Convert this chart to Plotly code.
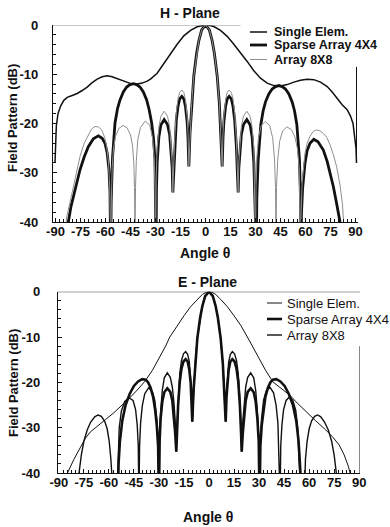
import plotly.graph_objects as go

# ---------------- DATA (angle in degrees, level in dB) ----------------
x_tick_vals = [-90, -75, -60, -45, -30, -15, 0, 15, 30, 45, 60, 75, 90]
x_tick_text = ["-90", "-75", "-60", "-45", "-30", "-15", "0", "15", "30", "45", "60", "75", "90"]
y_tick_vals = [-40, -30, -20, -10, 0]
y_tick_text = ["-40", "-30", "-20", "-10", "0"]
legend_names = ["Single Elem.", "Sparse Array 4X4", "Array 8X8"]

main_lobe = [(-9.3, -22), (-8.3, -15.9), (-7, -10.3), (-5.3, -5.7), (-4, -3.2), (-2.3, -1), (0, 0),
             (2.3, -1), (4, -3.2), (5.3, -5.7), (7, -10.3), (8.3, -15.9), (9.3, -22)]

h_single = [(-90.3, -28), (-90, -24), (-89.5, -20.5), (-88.5, -18), (-87, -16.5), (-85, -15.3), (-83, -14.7),
            (-80, -14.3), (-77, -13.9), (-74, -13.3), (-71, -12.6), (-68, -11.7), (-65, -11), (-62, -10.5),
            (-59, -10.3), (-56, -10.5), (-53, -10.9), (-50, -11.3), (-47, -11.7), (-44, -12), (-41, -12),
            (-38, -11.8), (-35, -11.4), (-33, -11), (-29, -9.8), (-25, -7.8), (-21, -5.8), (-17, -3.9),
            (-13, -2.2), (-9, -1.1), (-5, -0.35), (-2, -0.05), (0, 0), (2, -0.05), (5, -0.3), (9, -1.1),
            (13, -2.3), (17, -3.9), (21, -5.6), (25, -7.4), (29, -9.3), (33, -10.8), (37, -11.8), (41, -12.3),
            (45, -12.4), (49, -12.1), (53, -11.6), (57, -11.2), (61, -11), (65, -11.1), (69, -11.6),
            (73, -12.5), (76, -13.6), (79, -15), (82, -16.2), (85, -17.2), (87, -18.5), (88.5, -20),
            (89.5, -22.5), (90.3, -25), (90.6, -28)]

h_sparse = [(-83.5, -46), (-82.3, -40), (-80.8, -37), (-79.3, -34.8), (-77.3, -32), (-75.3, -29.4),
            (-72.8, -26.8), (-70.3, -24.7), (-67.3, -23.1), (-64.3, -22.5), (-62, -23), (-60.3, -24),
            (-59, -26), (-57.9, -29.4), (-57.3, -34), (-56.9, -46),
            (-56.6, -36), (-55.8, -27), (-54.3, -19.9), (-52.8, -17), (-51.3, -15.2), (-49.3, -13.6),
            (-47.3, -12.6), (-45.3, -12.1), (-43.3, -11.9), (-41.3, -12.1), (-39.3, -12.6), (-37.3, -13.6),
            (-35.3, -15.2), (-33.8, -17.2), (-32.3, -19.9), (-31.2, -23), (-30.3, -27.4), (-29.9, -33), (-29.7, -46),
            (-29.4, -33), (-29, -28), (-28, -22.8), (-26.8, -20.3), (-24.8, -19.2), (-22.8, -20.2), (-21.5, -22.3),
            (-20.5, -25.8), (-20, -29), (-19.6, -34),
            (-19.2, -30.5), (-18.5, -24.5), (-17.5, -19.3), (-16.5, -16.5), (-15.5, -15), (-14.2, -14.5),
            (-13, -15), (-12, -16.6), (-11, -19.8), (-10.5, -23), (-10, -28.7)] + main_lobe + [
            (10, -28.7), (10.5, -23), (11, -19.8), (12, -16.6), (13, -15), (14.2, -14.5), (15.5, -15),
            (16.5, -16.5), (17.5, -19.3), (18.5, -24.5), (19.2, -30.5), (19.6, -34),
            (20, -29), (20.5, -25.8), (21.5, -22.3), (22.8, -20.2), (24.8, -19.2), (26.8, -20.3), (28, -22.8),
            (29, -28), (29.5, -33), (29.9, -46),
            (30.5, -46), (30.8, -35), (31.6, -27.5), (33.2, -20.2), (34.6, -17.4), (36, -15.6), (38, -14),
            (40, -13), (42, -12.5), (44, -12.3), (46, -12.5), (48, -13), (50, -14), (52, -15.6), (53.4, -17.4),
            (54.8, -20.2), (56.4, -27.5), (57, -35), (57.3, -46),
            (57.6, -38), (58.3, -33), (59.7, -28), (61, -25.5), (62.7, -24), (65, -23.2), (67.5, -23.7),
            (70.7, -25.4), (73, -27.7), (75, -30.3), (76.7, -32.8), (78.7, -36.3), (80.7, -40), (81.5, -46)]

h_array8 = [(-85, -46), (-84, -40.5), (-83.3, -39), (-81.3, -36), (-79.3, -32.8), (-77.3, -29.5), (-75.3, -26.7),
            (-72.8, -24), (-70.3, -22.3), (-68.3, -21.1), (-66.3, -20.6), (-64.3, -20.7), (-62.3, -21.3),
            (-60.5, -22.8), (-59.3, -24.7), (-58.2, -28), (-57.5, -32.8), (-57.1, -38), (-56.8, -46),
            (-56.5, -36), (-56, -29), (-55.2, -25), (-54, -22.6), (-52, -21), (-49.5, -20.4), (-47, -20.9),
            (-45, -22.3), (-43.8, -24.5), (-43, -28), (-42.6, -33), (-42.3, -46),
            (-42, -33), (-41.5, -27.5), (-40.6, -23.2), (-39, -20.8), (-36.2, -19.5), (-33.5, -20.3),
            (-31.8, -22.8), (-30.8, -27), (-30.3, -33), (-30, -46),
            (-29.6, -31), (-29, -25), (-28, -20.8), (-26.8, -18.6), (-24.8, -17.5), (-22.8, -18.5),
            (-21.5, -20.7), (-20.5, -24.5), (-20, -28), (-19.6, -34),
            (-19.2, -30), (-18.5, -23), (-17.5, -17.8), (-16.5, -15), (-15.5, -13.7), (-14.2, -13.2),
            (-13, -13.7), (-12, -15.3), (-11, -18.5), (-10.5, -22), (-10, -28.7)] + main_lobe + [
            (10, -28.7), (10.5, -22), (11, -18.5), (12, -15.3), (13, -13.7), (14.2, -13.2), (15.5, -13.7),
            (16.5, -15), (17.5, -17.8), (18.5, -23), (19.2, -30), (19.6, -34),
            (20, -28), (20.5, -24.5), (21.5, -20.7), (22.8, -18.5), (24.8, -17.5), (26.8, -18.6), (28, -20.8),
            (29, -25), (29.6, -31), (30, -46),
            (30.3, -33), (30.8, -27), (31.8, -22.8), (33.5, -20.4), (35.8, -19.6), (38.5, -20.4), (40.3, -22.9),
            (41.4, -27.2), (42, -33), (42.3, -46),
            (42.6, -33), (43.3, -27.5), (44.5, -23.6), (46.3, -21.5), (48.8, -20.7), (51.5, -21.2),
            (53.7, -22.8), (55.2, -25.2), (56.2, -29), (56.8, -35), (57.1, -46),
            (57.4, -38), (58, -32), (59.7, -26), (61, -24), (62.7, -22.6), (64.7, -21.6), (66.7, -21.3),
            (68.7, -21.5), (70.7, -22), (72.7, -22.8), (74.7, -24.3), (76.7, -26.3), (78.7, -28.8),
            (80.7, -32.5), (82.2, -36.5), (83.1, -40), (84, -46)]

e_single = [(-86, -42), (-84.8, -40), (-81, -37), (-77, -34.2), (-74, -32.3), (-71, -30.9), (-66, -29.3),
            (-62, -28.2), (-57, -26.7), (-53, -25.4), (-48, -23.6), (-43, -21.7), (-38.5, -19.8), (-34, -17.4),
            (-29, -14.2), (-26, -12), (-23.5, -10), (-19, -7.4), (-15, -5.3), (-11, -3.3), (-7, -1.7),
            (-4, -0.6), (-1.5, -0.1), (0, 0), (1.5, -0.1), (4, -0.6), (7, -1.7), (11, -3.3), (15, -5.3),
            (19, -7.4), (23, -10), (26, -12), (29, -14.2), (34, -17.4), (38.3, -19.9), (43, -21.3),
            (48.3, -22.8), (53, -24.6), (58.2, -26.5), (64, -28.5), (70, -30.5), (74, -32), (78, -33.8),
            (81, -36), (83.5, -38.5), (85, -40.5), (86, -42)]

e_sparse = [(-56, -50), (-54.6, -46), (-54.2, -38), (-53.4, -33), (-52, -28.5), (-50, -25), (-47.5, -22.5),
            (-45, -20.8), (-42.5, -19.8), (-40, -19.3), (-38, -19.4), (-36.5, -20), (-35, -21.2),
            (-33.5, -23.2), (-32.3, -26), (-31.3, -29.5), (-30.5, -34), (-30, -46),
            (-29.6, -33), (-29, -28), (-28, -24.3), (-26.8, -22.2), (-25, -21.3), (-23.2, -22.1), (-22, -24),
            (-21, -27.3), (-20.3, -31), (-19.6, -35.3),
            (-19.2, -31), (-18.5, -25), (-17.5, -19.8), (-16.5, -17), (-15.3, -15.4), (-14, -14.9),
            (-12.8, -15.4), (-11.8, -17.2), (-11, -20), (-10.5, -23.2), (-10, -28.7)] + main_lobe + [
            (10, -28.7), (10.5, -23.2), (11, -20), (11.8, -17.2), (12.8, -15.4), (14, -14.9), (15.3, -15.4),
            (16.5, -17), (17.5, -19.8), (18.5, -25), (19.2, -31), (19.6, -35.3),
            (20.3, -31), (21, -27.3), (22, -24), (23.2, -22.1), (25, -21.3), (26.8, -22.2), (28, -24.3),
            (29, -28), (29.8, -33), (30.3, -46),
            (30.8, -34), (31.6, -29.5), (32.6, -26), (33.8, -23.2), (35.3, -21.2), (36.8, -20), (38.3, -19.4),
            (40.3, -19.3), (42.8, -19.8), (45.3, -20.8), (47.8, -22.5), (50.3, -25), (52.3, -28.5),
            (53.7, -33), (54.5, -38), (54.9, -46), (56.3, -50)]

e_array8 = [(-79, -46), (-77.9, -40), (-76.5, -36), (-75, -33), (-73, -30.5), (-71, -28.8), (-68.5, -27.6),
            (-66.5, -27.2), (-64.5, -27.5), (-62.5, -28.6), (-61, -30.3), (-59.8, -33), (-58.8, -37),
            (-58.2, -46), (-56.6, -50),
            (-55.2, -46), (-54.6, -36), (-53.8, -30), (-52.5, -26.3), (-50.5, -24.2), (-48, -23.4),
            (-45.5, -24), (-44, -26), (-43, -29.5), (-42.4, -34), (-42, -46),
            (-41.6, -34), (-41, -29), (-40, -25.2), (-38.5, -22.5), (-36.2, -21.2), (-34, -22), (-32.5, -24),
            (-31.3, -28), (-30.5, -33), (-30, -46),
            (-29.6, -32), (-29, -26.5), (-28, -21.8), (-26.8, -19), (-25, -17.9), (-23.2, -18.9), (-22, -21),
            (-21, -24.5), (-20.2, -29), (-19.6, -35.3),
            (-19.2, -30), (-18.5, -23.5), (-17.5, -18), (-16.5, -15.2), (-15.3, -13.7), (-14, -13.2),
            (-12.8, -13.8), (-11.8, -15.5), (-11, -18.5), (-10.5, -22), (-10, -28.7)] + main_lobe + [
            (10, -28.7), (10.5, -22), (11, -18.5), (11.8, -15.5), (12.8, -13.8), (14, -13.2), (15.3, -13.7),
            (16.5, -15.2), (17.5, -18), (18.5, -23.5), (19.2, -30), (19.6, -35.3),
            (20.2, -29), (21, -24.5), (22, -21), (23.2, -18.9), (25, -17.9), (26.8, -19), (28, -21.8),
            (29, -26.5), (29.8, -32), (30.3, -46),
            (30.7, -33), (31.5, -28), (32.7, -24), (34.2, -22), (36.4, -21), (38.7, -22.3), (40.2, -25),
            (41.3, -29), (42, -34), (42.6, -46),
            (43, -34), (43.7, -29.5), (44.7, -26), (46.2, -24), (48.3, -23.2), (50.3, -24), (52, -26.2),
            (53.2, -30), (53.8, -36), (54.3, -46), (55.8, -50),
            (57.2, -46), (57.8, -37), (58.8, -33), (60, -30.3), (61.5, -28.5), (63.3, -27.5), (65.1, -27.2),
            (67, -27.6), (69.3, -28.8), (71.5, -30.5), (73.5, -33), (75, -36), (76.3, -40), (77.3, -46)]

# ---------------- FIGURE ----------------
W, H = 390, 527
FONT = "Liberation Sans, Arial, sans-serif"
BLACK = "#111111"
GREY = "#8f8f8f"


def px(x):
    return x / W


def py(y):
    return 1 - y / H


fig = go.Figure()

h_styles = [(h_single, BLACK, 1.5), (h_sparse, BLACK, 2.8), (h_array8, GREY, 1.0)]
e_styles = [(e_single, BLACK, 1.0), (e_sparse, BLACK, 2.6), (e_array8, BLACK, 1.4)]

for name, (pts, col, wid) in zip(legend_names, h_styles):
    fig.add_trace(go.Scatter(x=[p[0] for p in pts], y=[p[1] for p in pts], mode="lines", name=name,
                             line=dict(color=col, width=wid), showlegend=False, xaxis="x", yaxis="y"))
for name, (pts, col, wid) in zip(legend_names, e_styles):
    fig.add_trace(go.Scatter(x=[p[0] for p in pts], y=[p[1] for p in pts], mode="lines", name=name,
                             line=dict(color=col, width=wid), showlegend=False, xaxis="x2", yaxis="y2"))

tickfont = dict(family=FONT, size=13, color=BLACK, weight="bold")


def xaxis(domain, rng, anchor):
    return dict(domain=domain, range=rng, anchor=anchor, tickvals=x_tick_vals, ticktext=x_tick_text,
                ticks="inside", ticklen=4,
                tickwidth=1, tickcolor=BLACK, showline=True, linecolor=BLACK, linewidth=1.2, showgrid=False,
                zeroline=False, tickfont=tickfont, ticklabelstandoff=-3, tickangle=0, automargin=False,
                minor=dict(dtick=2.5, tick0=0, ticks="inside", ticklen=3, tickcolor=BLACK, showgrid=False))


def yaxis(domain, anchor, standoff):
    return dict(domain=domain, range=[-40, 0], anchor=anchor, tickvals=y_tick_vals, ticktext=y_tick_text,
                ticks="inside", ticklen=4,
                tickwidth=1, tickcolor=BLACK, showline=True, linecolor=BLACK, linewidth=1.2, showgrid=False,
                zeroline=False, tickfont=tickfont, ticklabelstandoff=standoff, automargin=False,
                minor=dict(dtick=2, ticks="inside", ticklen=3, tickcolor=BLACK, showgrid=False))


fig.update_layout(
    template="none",
    width=W, height=H, margin=dict(l=0, r=0, t=0, b=0, autoexpand=False),
    paper_bgcolor="white", plot_bgcolor="white", showlegend=False,
    xaxis=xaxis([px(53), px(358)], [-91.5, 91.5], "y"),
    yaxis=yaxis([py(222), py(25)], "x", 11),
    xaxis2=xaxis([px(58), px(360)], [-90.5, 90.5], "y2"),
    yaxis2=yaxis([py(473), py(291.7)], "x2", 14),
)

# partial frame lines visible in the original
shapes = [
    dict(type="line", xref="x", yref="y", x0=-91.5, x1=21, y0=0, y1=0, line=dict(color=GREY, width=1)),
    dict(type="line", xref="x", yref="y", x0=90.6, x1=90.6, y0=-8.5, y1=-28, line=dict(color=BLACK, width=1)),
    dict(type="line", xref="x2", yref="y2", x0=-90.5, x1=90.5, y0=0, y1=0, line=dict(color=BLACK, width=1)),
    dict(type="line", xref="x2", yref="y2", x0=90.5, x1=90.5, y0=-12, y1=-40, line=dict(color=BLACK, width=1)),
]

annotations = []
bold14 = dict(family=FONT, size=14, color=BLACK, weight="bold")
bold13 = dict(family=FONT, size=13, color=BLACK, weight="bold")
for txt, x, y in [("H - Plane", 190, 13), ("E - Plane", 207, 282)]:
    annotations.append(dict(text=txt, x=px(x), y=py(y), xref="paper", yref="paper", showarrow=False,
                            font=bold14, xanchor="center", yanchor="middle"))
for x, y in [(205, 253), (207.5, 516.5)]:
    annotations.append(dict(text="Angle θ", x=px(x), y=py(y), xref="paper", yref="paper", showarrow=False,
                            font=bold14, xanchor="center", yanchor="middle"))
for x, y in [(13, 118), (13, 383)]:
    annotations.append(dict(text="Field Pattern (dB)", x=px(x), y=py(y), xref="paper", yref="paper",
                            showarrow=False, font=bold13, textangle=-90, xanchor="center", yanchor="middle"))

# legends (drawn as sample lines + text)
h_leg = dict(rows=[32, 45, 59.5], x0=250, x1=267, tx=272,
             font=dict(family=FONT, size=12.5, color=BLACK, weight="bold"))
e_leg = dict(rows=[303, 319, 335], x0=267, x1=282, tx=285,
             font=dict(family=FONT, size=13, color=BLACK))
for leg, styles in [(h_leg, h_styles), (e_leg, e_styles)]:
    for name, yrow, (pts, col, wid) in zip(legend_names, leg["rows"], styles):
        shapes.append(dict(type="line", xref="paper", yref="paper", x0=px(leg["x0"]), x1=px(leg["x1"]),
                           y0=py(yrow), y1=py(yrow), line=dict(color=col, width=wid)))
        annotations.append(dict(text=name, x=px(leg["tx"]), y=py(yrow), xref="paper", yref="paper",
                                showarrow=False, font=leg["font"], xanchor="left", yanchor="middle"))

fig.update_layout(shapes=shapes, annotations=annotations)
fig.write_html("out.html", config={"displayModeBar": False, "staticPlot": True},
               post_script="document.body.style.margin='0';document.body.style.overflow='hidden';")
